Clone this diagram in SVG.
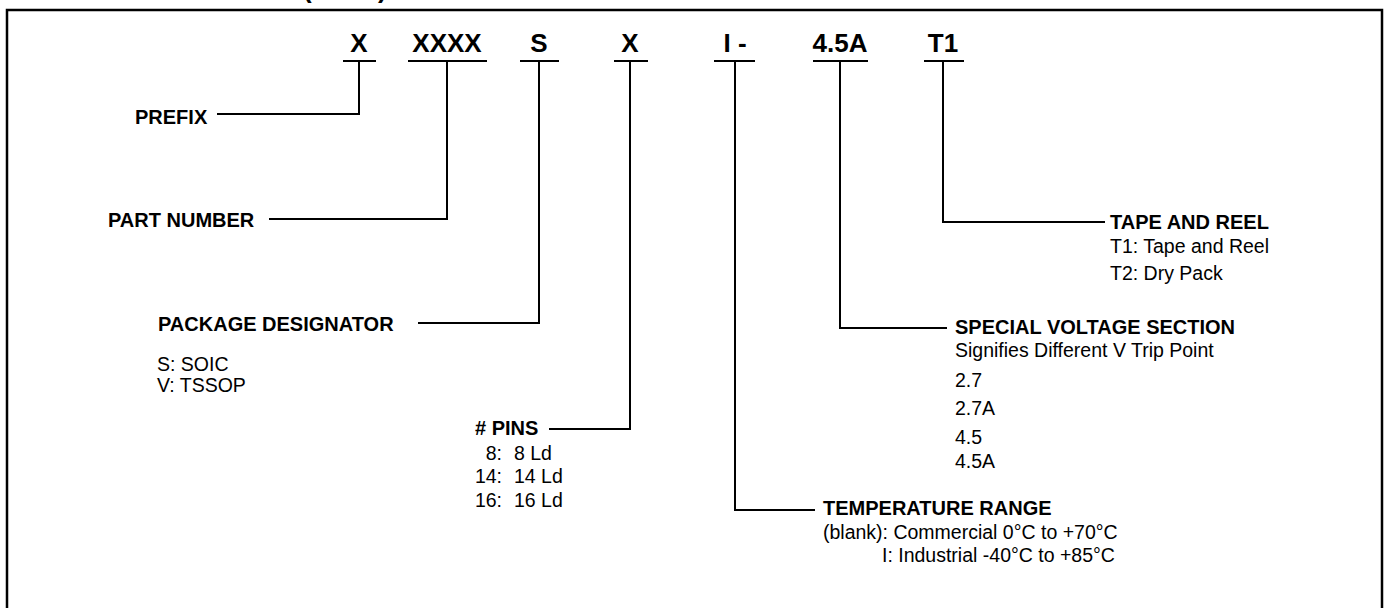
<svg xmlns="http://www.w3.org/2000/svg" width="1388" height="608" viewBox="0 0 1388 608">
<style>
.t{font-family:"Liberation Sans",Arial,sans-serif;fill:#000}
.code{font-size:26px;font-weight:bold;text-anchor:middle}
.h{font-size:20px;font-weight:bold}
.r{font-size:19.5px}
.ln{fill:none;stroke:#000;stroke-width:2}
</style>
<rect width="1388" height="608" fill="#fff"/>
<text class="t" x="303" y="-2" style="font-size:26px;font-weight:bold">(</text>
<text class="t" x="378" y="-2" style="font-size:26px;font-weight:bold">)</text>
<rect x="7" y="10" width="1375" height="640" fill="none" stroke="#000" stroke-width="2.5"/>

<g id="code">
<text class="t code" x="359" y="52">X</text>
<text class="t code" x="447" y="52">XXXX</text>
<text class="t code" x="539" y="52">S</text>
<text class="t code" x="630" y="52">X</text>
<text class="t code" x="735" y="52">I -</text>
<text class="t code" x="840" y="52">4.5A</text>
<text class="t code" x="943" y="52">T1</text>
<g class="ln">
<line x1="343" y1="61" x2="376" y2="61"/>
<line x1="408" y1="61" x2="487" y2="61"/>
<line x1="520" y1="61" x2="559" y2="61"/>
<line x1="614" y1="61" x2="648" y2="61"/>
<line x1="714" y1="61" x2="755" y2="61"/>
<line x1="813" y1="61" x2="868" y2="61"/>
<line x1="924" y1="61" x2="964" y2="61"/>
</g>
</g>

<g id="connectors" class="ln">
<polyline points="359,61 359,114 217,114"/>
<polyline points="447,61 447,219 269,219"/>
<polyline points="539,61 539,323 418,323"/>
<polyline points="630,61 630,429 549,429"/>
<polyline points="735,61 735,510 815,510"/>
<polyline points="840,61 840,328 947,328"/>
<polyline points="943,61 943,222 1105,222"/>
</g>

<g id="prefix">
<text class="t h" x="135" y="124">PREFIX</text>
</g>
<g id="part-number">
<text class="t h" x="108" y="227">PART NUMBER</text>
</g>
<g id="package">
<text class="t h" x="158" y="331">PACKAGE DESIGNATOR</text>
<text class="t r" x="157" y="371">S: SOIC</text>
<text class="t r" x="157" y="392">V: TSSOP</text>
</g>
<g id="pins">
<text class="t h" x="475" y="435"># PINS</text>
<text class="t r" x="502" y="460" text-anchor="end">8:</text>
<text class="t r" x="514" y="460">8 Ld</text>
<text class="t r" x="502" y="483" text-anchor="end">14:</text>
<text class="t r" x="514" y="483">14 Ld</text>
<text class="t r" x="502" y="507" text-anchor="end">16:</text>
<text class="t r" x="514" y="507">16 Ld</text>
</g>
<g id="temperature">
<text class="t h" x="823" y="515">TEMPERATURE RANGE</text>
<text class="t r" x="823" y="539">(blank): Commercial 0°C to +70°C</text>
<text class="t r" x="882" y="562">I: Industrial -40°C to +85°C</text>
</g>
<g id="voltage">
<text class="t h" x="955" y="334">SPECIAL VOLTAGE SECTION</text>
<text class="t r" x="955" y="357">Signifies Different V Trip Point</text>
<text class="t r" x="955" y="387">2.7</text>
<text class="t r" x="955" y="415">2.7A</text>
<text class="t r" x="955" y="444">4.5</text>
<text class="t r" x="955" y="468">4.5A</text>
</g>
<g id="tape">
<text class="t h" x="1110" y="229">TAPE AND REEL</text>
<text class="t r" x="1110" y="253">T1: Tape and Reel</text>
<text class="t r" x="1110" y="280">T2: Dry Pack</text>
</g>
</svg>
